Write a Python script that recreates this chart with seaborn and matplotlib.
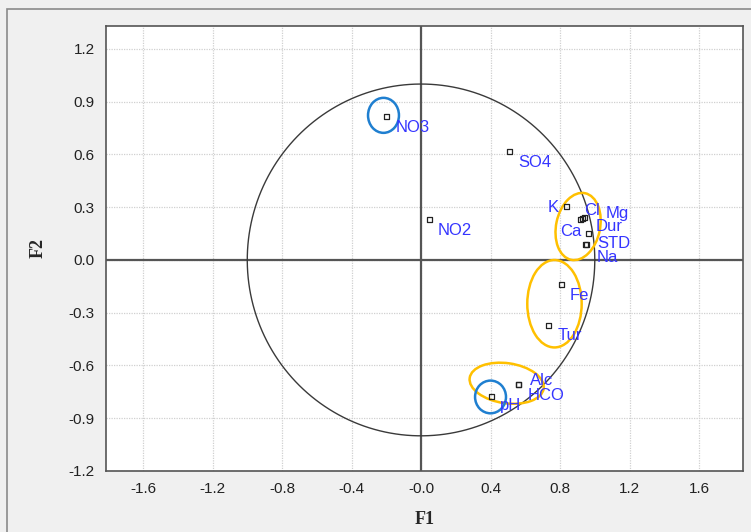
import numpy as np
import pandas as pd
import matplotlib.pyplot as plt
import seaborn as sns
from matplotlib.patches import Ellipse, Rectangle

# variables and their coordinates on the F1/F2 correlation circle
variables = ["NO3", "SO4", "NO2", "K", "Ca", "Cl", "Mg", "Dur", "STD", "Na",
             "Fe", "Tur", "Alc", "HCO", "pH"]
f1 = [-0.197, 0.512, 0.046, 0.839, 0.915, 0.928, 0.940, 0.963, 0.948, 0.952,
      0.806, 0.733, 0.560, 0.560, 0.407]
f2 = [0.815, 0.616, 0.228, 0.303, 0.231, 0.237, 0.243, 0.148, 0.089, 0.086,
      -0.142, -0.375, -0.711, -0.711, -0.778]

x_ticks = [-1.6, -1.2, -0.8, -0.4, 0.0, 0.4, 0.8, 1.2, 1.6]
x_ticklabels = ["-1.6", "-1.2", "-0.8", "-0.4", "-0.0", "0.4", "0.8", "1.2", "1.6"]
y_ticks = [-1.2, -0.9, -0.6, -0.3, 0.0, 0.3, 0.6, 0.9, 1.2]
y_ticklabels = ["-1.2", "-0.9", "-0.6", "-0.3", "0.0", "0.3", "0.6", "0.9", "1.2"]

# label offsets in pixels (dx, dy, ha)
label_offsets = {
    "NO3": (9, -11, "left"), "SO4": (8, -11, "left"), "NO2": (9, -11, "left"),
    "K": (-8, -1, "right"), "Ca": (1, -12, "right"), "Cl": (2, 8, "left"),
    "Mg": (21, 4, "left"), "Dur": (7, 7, "left"), "STD": (12, 1, "left"),
    "Na": (10, -13, "left"), "Fe": (9, -11, "left"), "Tur": (9, -10, "left"),
    "Alc": (12, 4, "left"), "HCO": (9, -11, "left"), "pH": (8, -9, "left"),
}

# highlight ellipses: (cx, cy, width, height, angle, color)
highlights = [
    (-0.216, 0.822, 0.178, 0.199, 0, "#1f7fd0"),
    (0.904, 0.190, 0.253, 0.387, -12, "#ffc000"),
    (0.768, -0.249, 0.313, 0.497, 0, "#ffc000"),
    (0.493, -0.701, 0.430, 0.228, -8, "#ffc000"),
    (0.400, -0.779, 0.178, 0.186, 0, "#1f7fd0"),
]

df = pd.DataFrame({"var": variables, "F1": f1, "F2": f2})

sns.set_style("white")
plt.rcParams["font.family"] = ["Liberation Sans", "DejaVu Sans"]

fig = plt.figure(figsize=(7.51, 5.32), dpi=100, facecolor="#f0f0f0")
fig.patches.append(Rectangle((7 / 751, -0.1), 1.2, 1 - 9 / 532 + 0.1,
                             transform=fig.transFigure, fill=False,
                             edgecolor="#8a8a8a", lw=1.2))
ax = fig.add_axes([106 / 751, 1 - 471 / 532, 637 / 751, 445 / 532])
ax.set_facecolor("white")

# unit circle
t = np.linspace(0, 2 * np.pi, 400)
ax.plot(np.cos(t), np.sin(t), color="#3a3a3a", lw=1.0, zorder=2)

# reference axes
ax.axhline(0, color="#555555", lw=1.6, zorder=1)
ax.axvline(0, color="#555555", lw=1.6, zorder=1)

sns.scatterplot(data=df, x="F1", y="F2", marker="s", s=13,
                facecolor="none", edgecolor="#222222", linewidth=0.9,
                ax=ax, zorder=4)

for v, x, y in zip(variables, f1, f2):
    dx, dy, ha = label_offsets[v]
    ax.annotate(v, (x, y), xytext=(dx * 0.72, dy * 0.72),
                textcoords="offset points", ha=ha, va="center",
                color="#3535ff", fontsize=12, zorder=5)

for cx, cy, w, h, ang, col in highlights:
    ax.add_patch(Ellipse((cx, cy), w, h, angle=ang, fill=False,
                         edgecolor=col, lw=1.8, zorder=3))

ax.set_xlim(-1.813, 1.853)
ax.set_ylim(-1.2, 1.33)
ax.set_xticks(x_ticks)
ax.set_xticklabels(x_ticklabels)
ax.set_yticks(y_ticks)
ax.set_yticklabels(y_ticklabels)
ax.grid(True, color="#d0d0d0", linestyle=(0, (1, 1)), lw=0.9)
ax.tick_params(direction="out", length=5, width=1.2, color="#333333",
               labelsize=11, labelcolor="#222222", pad=3)
for s in ax.spines.values():
    s.set_color("#555555")
    s.set_linewidth(1.2)

ax.set_xlabel("F1", fontsize=13, fontweight="bold",
              family=["Liberation Serif", "DejaVu Serif"], labelpad=11)
ax.set_ylabel("F2", fontsize=13, fontweight="bold",
              family=["Liberation Serif", "DejaVu Serif"], labelpad=16)

fig.savefig("out.png", dpi=100, facecolor=fig.get_facecolor())
